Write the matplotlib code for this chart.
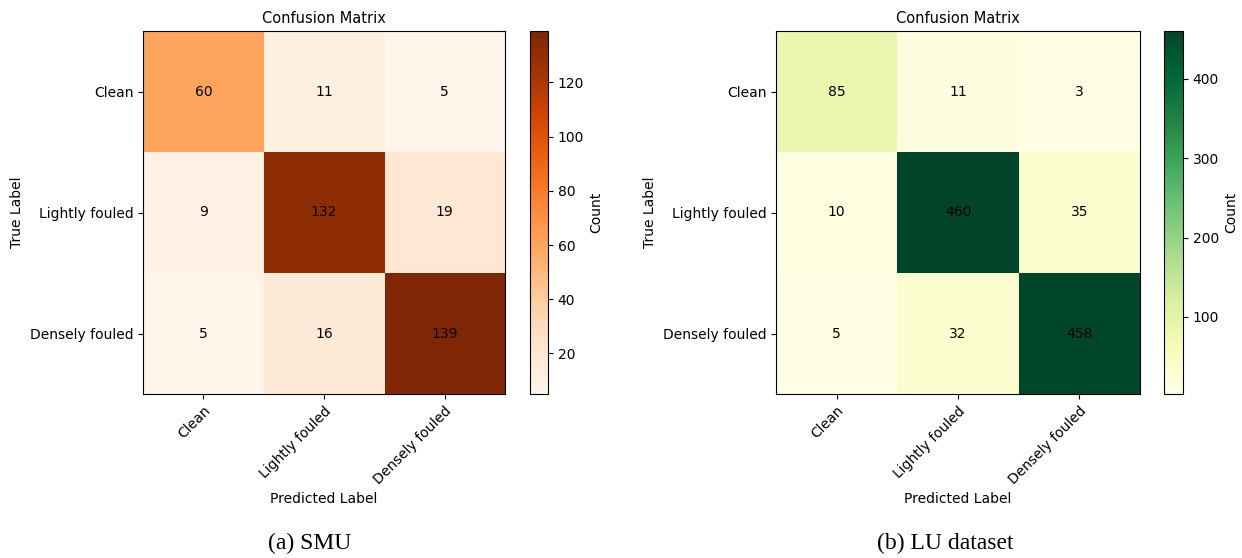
import numpy as np
import matplotlib
matplotlib.use("Agg")
import matplotlib.pyplot as plt

labels = ["Clean", "Lightly fouled", "Densely fouled"]
smu = np.array([[60, 11, 5], [9, 132, 19], [5, 16, 139]])
lu = np.array([[85, 11, 3], [10, 460, 35], [5, 32, 458]])
captions = ["(a) SMU", "(b) LU dataset"]

W, H = 1242, 558
fig = plt.figure(figsize=(W / 100, H / 100), dpi=100)

def box(x0, y0, x1, y1):
    return [x0 / W, 1 - y1 / H, (x1 - x0) / W, (y1 - y0) / H]

panels = [
    (smu, "Oranges", box(143, 31, 505, 394), box(530, 31, 548, 394), 310),
    (lu, "YlGn", box(776, 31, 1140, 394), box(1164, 31, 1183, 394), 945),
]

for (cm, cmap, axpos, cbpos, cx), cap in zip(panels, captions):
    ax = fig.add_axes(axpos)
    im = ax.imshow(cm, cmap=cmap, aspect="auto", interpolation="nearest")
    ax.set_title("Confusion Matrix", fontsize=10.5)
    ax.set_xticks(range(3))
    ax.set_yticks(range(3))
    ax.set_xticklabels(labels, rotation=45, ha="right", rotation_mode="anchor", fontsize=10)
    ax.set_yticklabels(labels, fontsize=10)
    ax.set_xlabel("Predicted Label", fontsize=10)
    ax.set_ylabel("True Label", fontsize=10)
    for i in range(3):
        for j in range(3):
            ax.text(j, i, str(cm[i, j]), ha="center", va="center", color="black", fontsize=10)
    cax = fig.add_axes(cbpos)
    cb = fig.colorbar(im, cax=cax)
    cb.set_label("Count", fontsize=10)
    cb.ax.tick_params(labelsize=10)
    fig.text(cx / W, 1 - 543 / H, cap, ha="center", va="center",
             fontsize=17, family="Liberation Serif")

fig.savefig("out.png", dpi=100)
